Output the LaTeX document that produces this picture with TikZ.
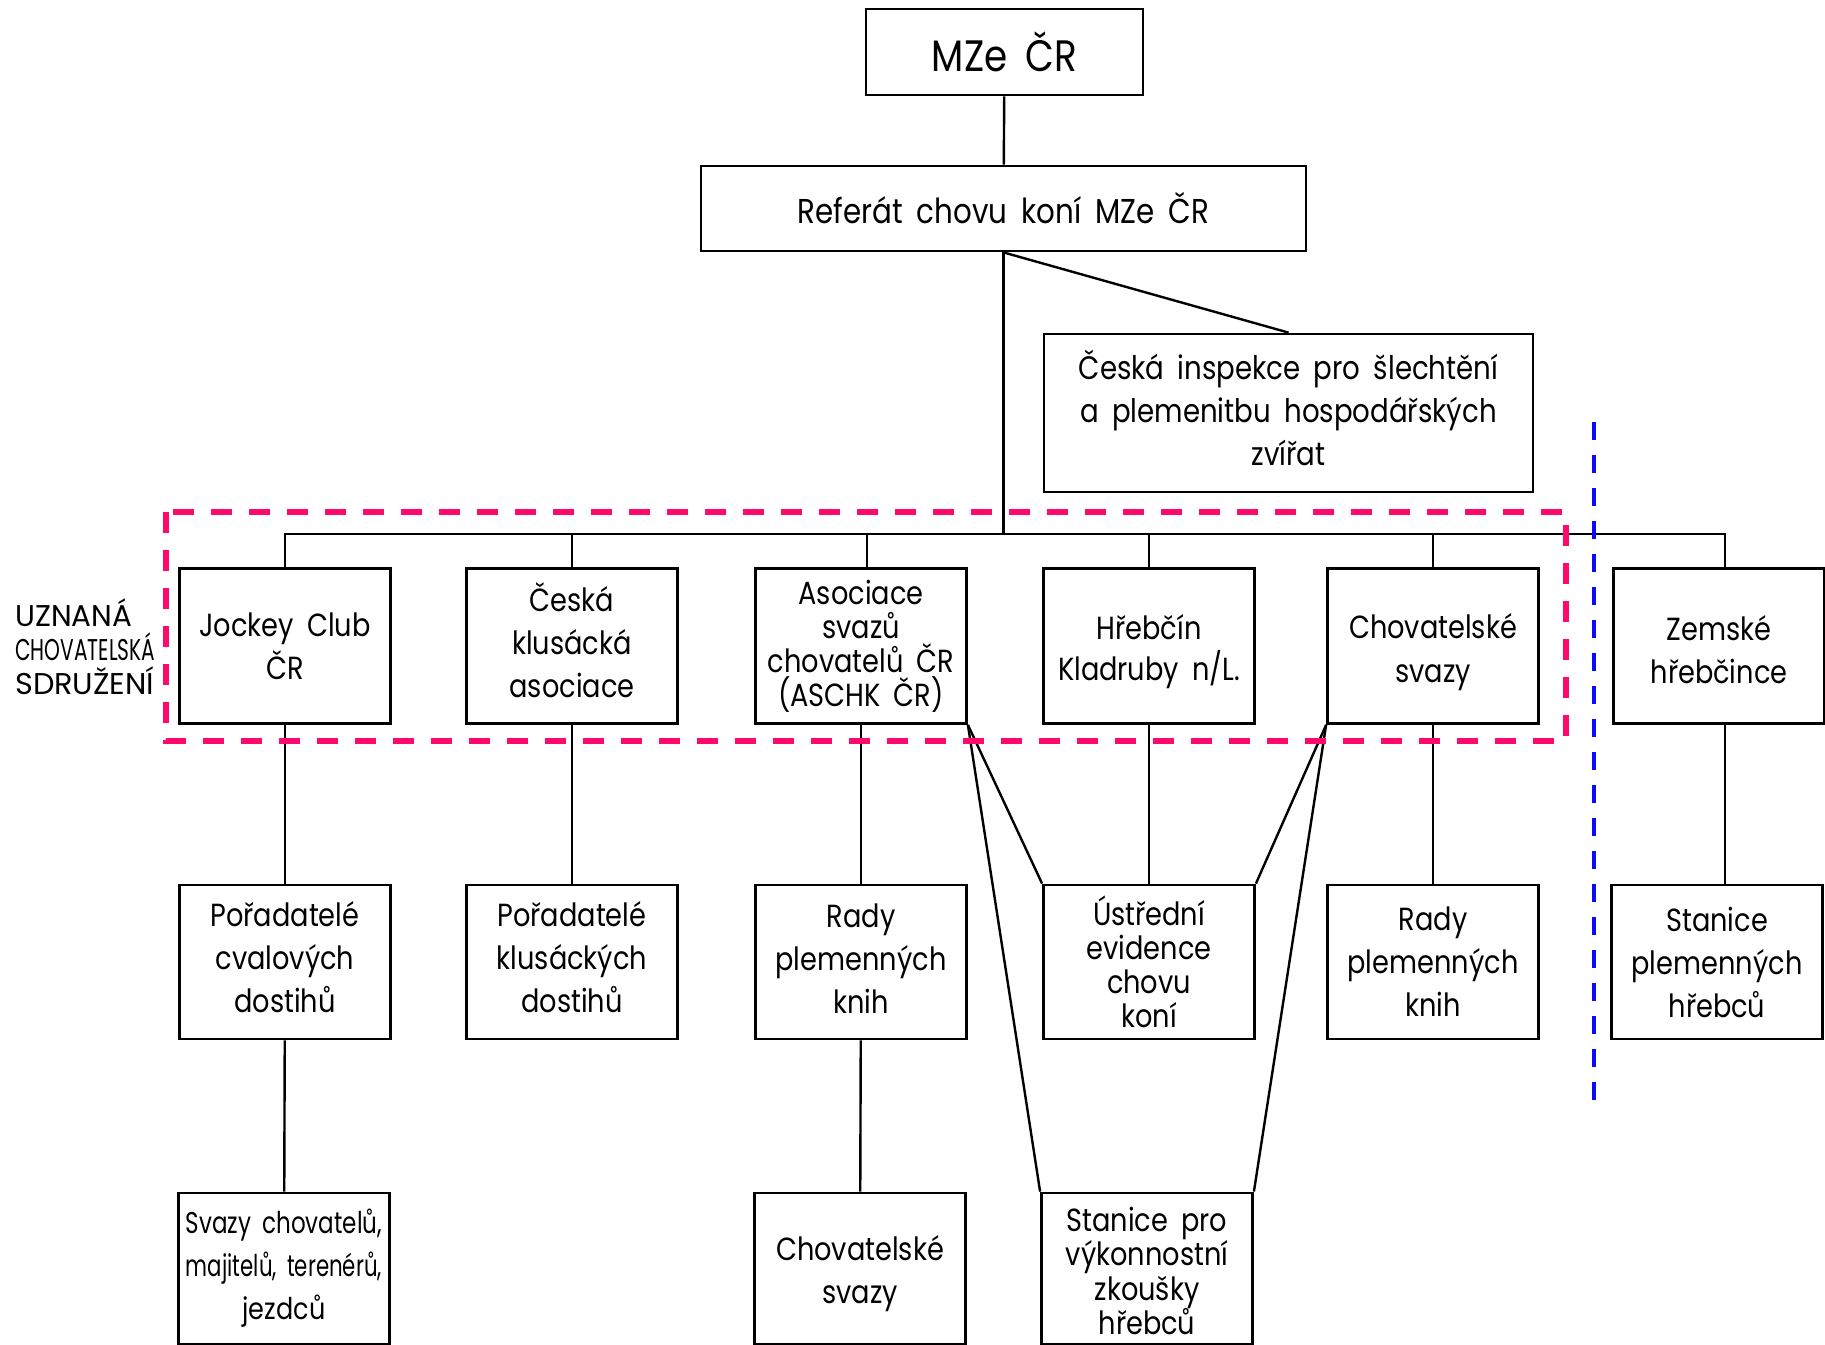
\documentclass[tikz,border=0pt]{standalone}
\usepackage{fontspec}
\usepackage{graphicx}
\setmainfont{Poppins}[FakeStretch=0.85,WordSpace=1.8]
\definecolor{grpcol}{HTML}{FF0A6C}
\definecolor{sepcol}{HTML}{0A0AFF}
\begin{document}
\begin{tikzpicture}[x=1pt,y=-1pt,
  box/.style={draw, line width=2.8pt, inner sep=0pt, minimum width=211pt,
    minimum height=155pt, align=center, font=\fontsize{32}{43}\selectfont},
  tight/.style={font=\fontsize{32}{34}\selectfont},
  txt/.style={align=center, inner sep=0pt, font=\fontsize{32}{43}\selectfont},
  conn/.style={line width=2.4pt},
  grp/.style={draw=grpcol, line width=5.5pt, dash pattern=on 21pt off 17pt},
  sepline/.style={draw=sepcol, line width=4.7pt, dash pattern=on 18pt off 15pt},
  lab/.style={anchor=base west, inner sep=0pt, font=\fontsize{30}{34}\selectfont}]
\useasboundingbox (0,0) rectangle (1825,1344);

% top
\node[box, minimum width=277pt, minimum height=86pt, font=\fontsize{44}{50}\selectfont] (mze) at (1004.5,52) {MZe ČR};
\node[box, minimum width=605pt, minimum height=85pt, font=\fontsize{34.5}{40}\selectfont] (ref) at (1003.5,208.5) {Referát chovu koní MZe ČR};
\node[box, minimum width=489pt, minimum height=158pt] (insp) at (1288.5,413) {};
\node[txt, font=\fontsize{32.5}{43}\selectfont] (tinsp) at ([yshift=5pt]insp.center) {Česká inspekce pro šlechtění\\a plemenitbu hospodářských\\zvířat};

% row 1
\node[box] (jc) at (285,646) {Jockey Club\\ČR};
\node[box] (ck) at (572,646) {};
\node[txt] (tck) at ([yshift=6pt]ck.center) {Česká\\klusácká\\asociace};
\node[box, tight] (as) at (861,646) {Asociace\\svazů\\chovatelů ČR\\(ASCHK ČR)};
\node[box] (hr) at (1149,646) {};
\node[txt, font=\fontsize{32}{41}\selectfont] (thr) at ([yshift=-6pt]hr.center) {Hřebčín\\Kladruby n/L.};
\node[box] (cs) at (1433,646) {};
\node[txt, font=\fontsize{32}{44}\selectfont] (tcs) at ([yshift=-6pt]cs.center) {Chovatelské\\svazy};
\node[box] (zh) at (1719,646) {};
\node[txt] (tzh) at ([yshift=-3.5pt]zh.center) {Zemské\\hřebčince};

% row 2
\node[box, minimum height=154pt] (pc) at (285,962) {};
\node[txt] (tpc) at ([yshift=5pt]pc.center) {Pořadatelé\\cvalových\\dostihů};
\node[box, minimum height=154pt] (pk) at (572,962) {};
\node[txt] (tpk) at ([yshift=5pt]pk.center) {Pořadatelé\\klusáckých\\dostihů};
\node[box, minimum height=154pt] (rp1) at (861,962) {};
\node[txt] (trp1) at ([yshift=3pt]rp1.center) {Rady\\plemenných\\knih};
\node[box, minimum height=154pt, tight] (ue) at (1149,962) {Ústřední\\evidence\\chovu\\koní};
\node[box, minimum height=154pt] (rp2) at (1433,962) {Rady\\plemenných\\knih};
\node[box, minimum height=154pt] (sph) at (1717,962) {Stanice\\plemenných\\hřebců};

% row 3
\node[box, minimum height=151pt, font=\fontsize{30}{43}\selectfont] (sv) at (284,1268.5) {\resizebox{196pt}{\height}{Svazy chovatelů,}\\\resizebox{196pt}{\height}{majitelů, terenérů,}\\jezdců};
\node[box, minimum height=151pt] (chs) at (860,1268.5) {};
\node[txt] (tchs) at ([yshift=-5pt]chs.center) {Chovatelské\\svazy};
\node[box, minimum height=151pt] (sp) at (1147,1268.5) {};
\node[txt, font=\fontsize{32}{34.5}\selectfont] (tsp) at ([yshift=-2.5pt]sp.center) {Stanice pro\\výkonnostní\\zkoušky\\hřebců};

% label
\node[lab] (lab1) at (15,626) {\resizebox{117pt}{\height}{UZNANÁ}};
\node[lab] (lab2) at (15,660) {\resizebox{140pt}{\height}{CHOVATELSKÁ}};
\node[lab] (lab3) at (15,694) {\resizebox{139pt}{\height}{SDRUŽENÍ}};

% connectors
\coordinate (bus) at (1003.5,534);
\draw[conn] (mze) -- (ref);
\draw[conn] (ref.south) -- (bus);
\draw[conn] (ref.south) -- (insp.north);
\draw[conn] (jc.north) |- (bus) -| ([xshift=6pt]zh.north);
\draw[conn] (ck.north) -- (ck.north |- bus);
\draw[conn] ([xshift=6pt]as.north) -- ([xshift=6pt]as.north |- bus);
\draw[conn] (hr.north) -- (hr.north |- bus);
\draw[conn] (cs.north) -- (cs.north |- bus);

\draw[conn] (jc) -- (pc);
\draw[conn] (ck) -- (pk);
\draw[conn] (as) -- (rp1);
\draw[conn] (hr) -- (ue);
\draw[conn] (cs) -- (rp2);
\draw[conn] ([xshift=6pt]zh.south) -- ([xshift=6pt]zh.south |- sph.north);
\draw[conn] (pc) -- (sv);
\draw[conn] (rp1) -- (chs);

\draw[conn] (as.south east) -- (ue.north west);
\draw[conn] (as.south east) -- (sp.north west);
\draw[conn] (cs.south west) -- (ue.north east);
\draw[conn] (cs.south west) -- (sp.north east);

% group frame and separator
\draw[grp] (166,512) rectangle (1566,741);
\coordinate (sepT) at (1594,422);
\coordinate (sepB) at (1594,1108);
\draw[sepline] (sepT) -- (sepB);
\end{tikzpicture}
\end{document}
